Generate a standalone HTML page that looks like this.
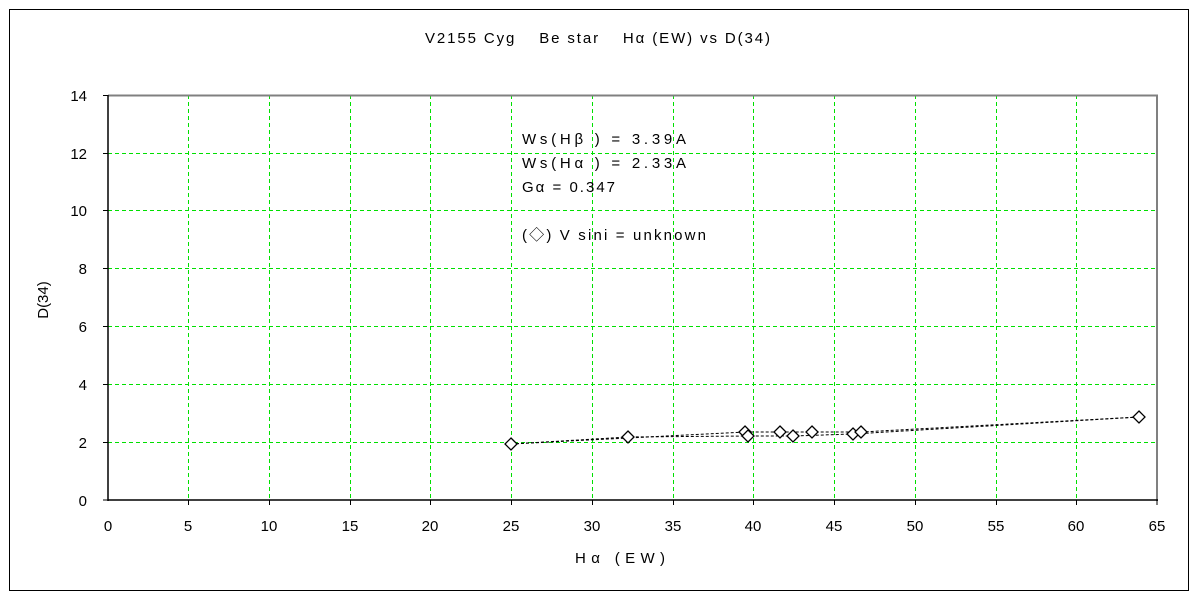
<!DOCTYPE html>
<html><head><meta charset="utf-8"><style>
body{margin:0;background:#fff}
svg{display:block;font-family:"Liberation Sans","Noto Sans CJK JP",sans-serif}
</style></head><body>
<svg width="1200" height="600" xmlns="http://www.w3.org/2000/svg">
<rect x="0" y="0" width="1200" height="600" fill="#fff"/>
<rect x="9.5" y="9.5" width="1179" height="581" fill="none" stroke="#000" stroke-width="1"/>
<text x="425" y="43" font-size="15" textLength="345" lengthAdjust="spacing">V2155 Cyg　 Be star　 Hα (EW) vs D(34)</text>
<g stroke="#00e000" stroke-dasharray="4,3" stroke-width="1">
<line x1="188.5" y1="95" x2="188.5" y2="500"/><line x1="269.5" y1="95" x2="269.5" y2="500"/>
<line x1="350.5" y1="95" x2="350.5" y2="500"/><line x1="430.5" y1="95" x2="430.5" y2="500"/>
<line x1="511.5" y1="95" x2="511.5" y2="500"/><line x1="592.5" y1="95" x2="592.5" y2="500"/>
<line x1="673.5" y1="95" x2="673.5" y2="500"/><line x1="753.5" y1="95" x2="753.5" y2="500"/>
<line x1="834.5" y1="95" x2="834.5" y2="500"/><line x1="915.5" y1="95" x2="915.5" y2="500"/>
<line x1="996.5" y1="95" x2="996.5" y2="500"/><line x1="1076.5" y1="95" x2="1076.5" y2="500"/>
<line x1="108" y1="442.5" x2="1157" y2="442.5"/><line x1="108" y1="384.5" x2="1157" y2="384.5"/>
<line x1="108" y1="326.5" x2="1157" y2="326.5"/><line x1="108" y1="268.5" x2="1157" y2="268.5"/>
<line x1="108" y1="210.5" x2="1157" y2="210.5"/><line x1="108" y1="153.5" x2="1157" y2="153.5"/>
</g>
<line x1="108" y1="95.5" x2="1158" y2="95.5" stroke="#808080" stroke-width="2"/>
<line x1="1157" y1="95" x2="1157" y2="501" stroke="#808080" stroke-width="2"/>
<line x1="108" y1="500" x2="1158" y2="500" stroke="#000" stroke-width="1.5"/>
<line x1="108" y1="95" x2="108" y2="501" stroke="#000" stroke-width="1.5"/>
<g stroke="#000" stroke-width="1">
<line x1="103" y1="442.5" x2="108" y2="442.5"/><line x1="103" y1="384.5" x2="108" y2="384.5"/>
<line x1="103" y1="326.5" x2="108" y2="326.5"/><line x1="103" y1="268.5" x2="108" y2="268.5"/>
<line x1="103" y1="210.5" x2="108" y2="210.5"/><line x1="103" y1="153.5" x2="108" y2="153.5"/>
<line x1="103" y1="95.5" x2="108" y2="95.5"/><line x1="103" y1="500" x2="108" y2="500"/>
<line x1="188.5" y1="500" x2="188.5" y2="505"/><line x1="269.5" y1="500" x2="269.5" y2="505"/>
<line x1="350.5" y1="500" x2="350.5" y2="505"/><line x1="430.5" y1="500" x2="430.5" y2="505"/>
<line x1="511.5" y1="500" x2="511.5" y2="505"/><line x1="592.5" y1="500" x2="592.5" y2="505"/>
<line x1="673.5" y1="500" x2="673.5" y2="505"/><line x1="753.5" y1="500" x2="753.5" y2="505"/>
<line x1="834.5" y1="500" x2="834.5" y2="505"/><line x1="915.5" y1="500" x2="915.5" y2="505"/>
<line x1="996.5" y1="500" x2="996.5" y2="505"/><line x1="1076.5" y1="500" x2="1076.5" y2="505"/>
<line x1="1157" y1="500" x2="1157" y2="505"/>
</g>
<g font-size="15" text-anchor="end">
<text x="87" y="506">0</text><text x="87" y="448">2</text><text x="87" y="390">4</text>
<text x="87" y="332">6</text><text x="87" y="274">8</text><text x="87" y="216">10</text>
<text x="87" y="159">12</text><text x="87" y="101">14</text>
</g>
<g font-size="15" text-anchor="middle">
<text x="108" y="531">0</text><text x="188" y="531">5</text><text x="269" y="531">10</text>
<text x="350" y="531">15</text><text x="430" y="531">20</text><text x="511" y="531">25</text>
<text x="592" y="531">30</text><text x="673" y="531">35</text><text x="753" y="531">40</text>
<text x="834" y="531">45</text><text x="915" y="531">50</text><text x="996" y="531">55</text>
<text x="1076" y="531">60</text><text x="1157" y="531">65</text>
</g>
<text x="575" y="563" font-size="15" textLength="90" lengthAdjust="spacing">Hα (EW)</text>
<text x="48" y="300" font-size="15" text-anchor="middle" transform="rotate(-90 48 300)">D(34)</text>
<g font-size="15" lengthAdjust="spacing">
<text x="522" y="144" textLength="164">Ws(Hβ ) = 3.39A</text>
<text x="522" y="168" textLength="164">Ws(Hα ) = 2.33A</text>
<text x="522" y="192" textLength="93">Gα = 0.347</text>
<text x="522" y="240" textLength="184">(◇) V sini = unknown</text>
</g>
<g fill="none" stroke="#000" stroke-width="1" stroke-dasharray="3,2">
<polyline points="511,444 628,437 748,436 793,436 853,434 1139,417"/>
<polyline points="511,444 745,432 780,432 812,432 861,432 1139,417"/>
</g>
<g fill="#fff" stroke="#000" stroke-width="1.3">
<path d="M511,438 l6,6 l-6,6 l-6,-6z"/>
<path d="M628,431 l6,6 l-6,6 l-6,-6z"/>
<path d="M745,426 l6,6 l-6,6 l-6,-6z"/>
<path d="M748,430 l6,6 l-6,6 l-6,-6z"/>
<path d="M780,426 l6,6 l-6,6 l-6,-6z"/>
<path d="M793,430 l6,6 l-6,6 l-6,-6z"/>
<path d="M812,426 l6,6 l-6,6 l-6,-6z"/>
<path d="M853,428 l6,6 l-6,6 l-6,-6z"/>
<path d="M861,426 l6,6 l-6,6 l-6,-6z"/>
<path d="M1139,411 l6,6 l-6,6 l-6,-6z"/>
</g>
</svg>
</body></html>
